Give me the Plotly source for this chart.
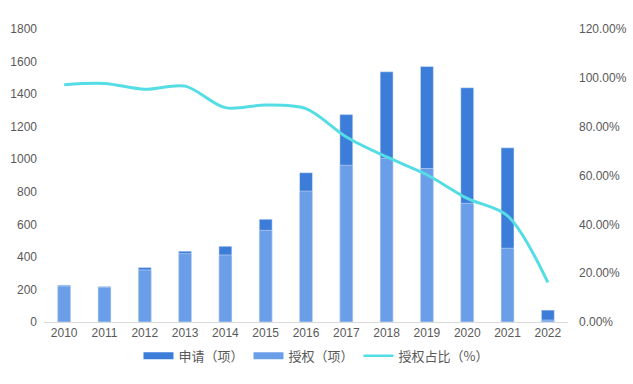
import plotly.graph_objects as go

years = ["2010", "2011", "2012", "2013", "2014", "2015", "2016",
         "2017", "2018", "2019", "2020", "2021", "2022"]
applications = [226, 218, 335, 435, 465, 631, 917, 1274, 1537, 1570, 1439, 1070, 73]
grants = [220, 213, 320, 420, 412, 563, 804, 963, 1005, 943, 729, 453, 12]
grant_ratio = [97.2, 97.7, 95.3, 96.6, 87.8, 88.9, 87.4, 75.8, 67.6, 60.3, 50.6, 43.5, 16.2]

left_ticks = [0, 200, 400, 600, 800, 1000, 1200, 1400, 1600, 1800]
right_ticks = [0, 20, 40, 60, 80, 100, 120]
right_labels = [f"{v:.2f}%" for v in right_ticks]

dark = "#3B7DD8"
light = "#6A9EE8"
cyan = "#55DDE5"

tick_font = dict(family="Liberation Sans, Arial", size=12, color="#595959")

fig = go.Figure()
fig.add_trace(go.Bar(x=years, y=applications, marker_color=dark, width=0.32,
                     showlegend=False, name="申请（项）"))
fig.add_trace(go.Bar(x=years, y=grants, marker_color=light, width=0.32,
                     showlegend=False, name="授权（项）"))
fig.add_trace(go.Scatter(x=years, y=grant_ratio, yaxis="y2", mode="lines",
                         line=dict(color=cyan, width=3, shape="spline", smoothing=0.9),
                         showlegend=False, name="授权占比（%）"))
# legend entries (Excel-style line swatches)
fig.add_trace(go.Scatter(x=[None], y=[None], mode="lines", name="申请（项）",
                         line=dict(color=dark, width=7)))
fig.add_trace(go.Scatter(x=[None], y=[None], mode="lines", name="授权（项）",
                         line=dict(color=light, width=7)))
fig.add_trace(go.Scatter(x=[None], y=[None], mode="lines", name="授权占比（%）",
                         line=dict(color=cyan, width=2.5)))

fig.update_layout(
    width=633, height=384,
    margin=dict(l=44, r=65, t=29, b=62),
    paper_bgcolor="white", plot_bgcolor="white",
    barmode="overlay",
    font=dict(family="Noto Sans CJK SC, Liberation Sans, sans-serif", size=12, color="#595959"),
    xaxis=dict(type="category", range=[-0.5, 12.5], showgrid=False, automargin=False,
               showline=True, linecolor="#D9D9D9", linewidth=1, ticks="",
               tickfont=tick_font),
    yaxis=dict(range=[0, 1800], tickvals=left_ticks, showgrid=False, zeroline=False,
               showline=False, ticks="", tickfont=tick_font, ticklabelstandoff=6,
               automargin=False),
    yaxis2=dict(range=[0, 120], overlaying="y", side="right", tickvals=right_ticks,
                ticktext=right_labels, showgrid=False, zeroline=False, showline=False,
                ticks="", tickfont=tick_font, ticklabelstandoff=10, automargin=False),
    legend=dict(orientation="h", x=0.52, xanchor="center", y=-0.115, yanchor="middle",
                font=dict(size=13, color="#595959"), itemwidth=30,
                traceorder="normal"),
)

fig.write_html("out.html", post_script="document.body.style.margin='0';",
               config={"displayModeBar": False})
